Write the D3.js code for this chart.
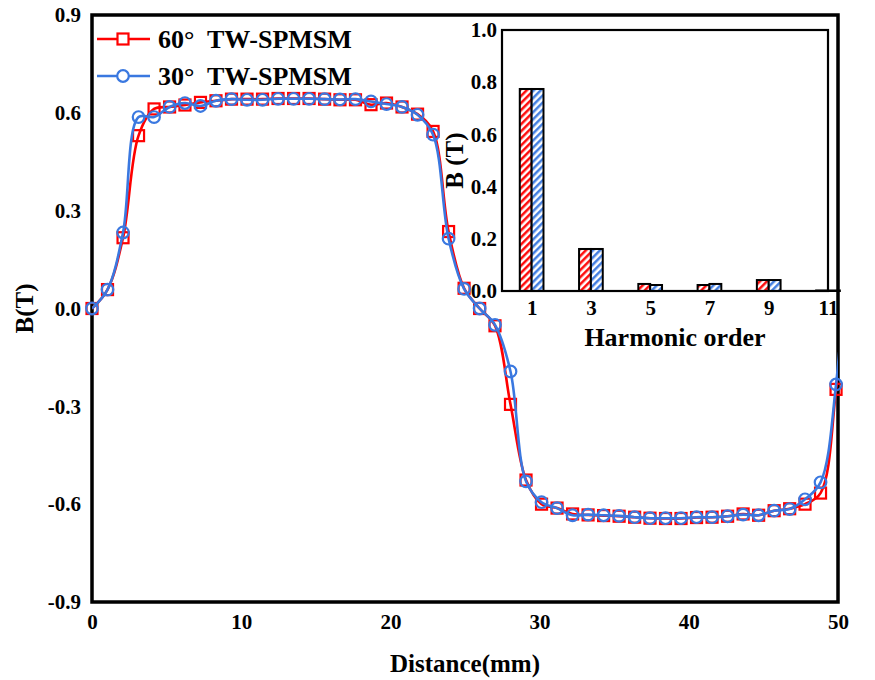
<!DOCTYPE html>
<html>
<head>
<meta charset="utf-8">
<script src="https://cdn.jsdelivr.net/npm/d3@7"></script>
<style>
    body { margin: 0; background: #fff; }
</style>
</head>
<body>
<script>
// distance along the air gap (mm), last point lies past the frame and is clipped
var distance = [0, 1.04, 2.08, 3.12, 4.16, 5.2, 6.23, 7.27, 8.31, 9.35, 10.39, 11.43, 12.47, 13.51, 14.55,
    15.59, 16.62, 17.66, 18.7, 19.74, 20.78, 21.82, 22.86, 23.9, 24.94, 25.98, 27.01, 28.05, 29.09, 30.13,
    31.17, 32.21, 33.25, 34.29, 35.33, 36.37, 37.4, 38.44, 39.48, 40.52, 41.56, 42.6, 43.64, 44.68, 45.72,
    46.76, 47.79, 48.83, 49.87, 50.91];

var b60 = [0, 0.058, 0.217, 0.53, 0.612, 0.618, 0.624, 0.632, 0.637, 0.642, 0.642, 0.642, 0.644, 0.644, 0.644,
    0.642, 0.64, 0.64, 0.625, 0.63, 0.618, 0.596, 0.543, 0.236, 0.062, 0, -0.053, -0.294, -0.526, -0.6,
    -0.612, -0.63, -0.633, -0.635, -0.637, -0.64, -0.643, -0.644, -0.644, -0.641, -0.64, -0.637, -0.63, -0.634, -0.62,
    -0.614, -0.6, -0.566, -0.248, 0.3];

var b30 = [0, 0.058, 0.233, 0.587, 0.587, 0.618, 0.63, 0.621, 0.637, 0.642, 0.64, 0.64, 0.643, 0.643, 0.643,
    0.642, 0.641, 0.642, 0.635, 0.627, 0.618, 0.594, 0.533, 0.214, 0.06, 0, -0.05, -0.193, -0.53, -0.594,
    -0.612, -0.634, -0.632, -0.634, -0.636, -0.64, -0.643, -0.643, -0.643, -0.64, -0.64, -0.637, -0.632, -0.634, -0.62,
    -0.615, -0.585, -0.533, -0.233, 0.45];

var xTicks = [0, 10, 20, 30, 40, 50];
var yTicks = [-0.9, -0.6, -0.3, 0, 0.3, 0.6, 0.9];

// harmonic spectrum (inset)
var orders = [1, 3, 5, 7, 9, 11];
var h60 = [0.774, 0.161, 0.027, 0.023, 0.042, 0.002];
var h30 = [0.774, 0.161, 0.023, 0.027, 0.042, 0.002];
var hTicks = [0, 0.2, 0.4, 0.6, 0.8, 1.0];

var seriesNames = ["60°  TW-SPMSM", "30°  TW-SPMSM"];

var red = "#ff0000";
var blue = "#3a78e0";
var font = "'Liberation Serif', 'Times New Roman', Times, serif";

var width = 875, height = 680;
var svg = d3.select("body").append("svg")
    .attr("width", width)
    .attr("height", height);

var defs = svg.append("defs");

// hatch patterns for the bars
[["hatchRed", red], ["hatchBlue", blue]].forEach(function(p) {
    var pat = defs.append("pattern")
        .attr("id", p[0])
        .attr("patternUnits", "userSpaceOnUse")
        .attr("width", 5)
        .attr("height", 5)
        .attr("patternTransform", "rotate(45)");
    pat.append("rect").attr("width", 5).attr("height", 5).attr("fill", "#fff");
    pat.append("line")
        .attr("x1", 1.3).attr("y1", 0).attr("x2", 1.3).attr("y2", 5)
        .attr("stroke", p[1]).attr("stroke-width", 2.4);
});

function styleText(sel, size) {
    sel.style("font-family", font)
        .style("font-weight", "bold")
        .style("font-size", size + "px")
        .attr("fill", "#000");
}

// ---- main plot ----
var x = d3.scaleLinear().domain([0, 50]).range([92, 838]);
var y = d3.scaleLinear().domain([-0.9, 0.9]).range([602, 15]);

defs.append("clipPath").attr("id", "plotClip")
    .append("rect")
    .attr("x", x(0)).attr("y", y(0.9))
    .attr("width", x(50) - x(0)).attr("height", y(-0.9) - y(0.9));

var xAxis = svg.append("g")
    .attr("transform", "translate(0," + y(-0.9) + ")")
    .call(d3.axisBottom(x).tickValues(xTicks).tickSize(0).tickPadding(12).tickFormat(d3.format("d")));
xAxis.select(".domain").remove();
styleText(xAxis.selectAll("text"), 21);

var yAxis = svg.append("g")
    .attr("transform", "translate(" + x(0) + ",0)")
    .call(d3.axisLeft(y).tickValues(yTicks).tickSize(0).tickPadding(11));
yAxis.select(".domain").remove();
yAxis.selectAll("text").text(function(d) { return d3.format(".1f")(d).replace("−", "-"); });
styleText(yAxis.selectAll("text"), 21);

svg.append("rect")
    .attr("x", x(0)).attr("y", y(0.9))
    .attr("width", x(50) - x(0)).attr("height", y(-0.9) - y(0.9))
    .attr("fill", "none").attr("stroke", "#000").attr("stroke-width", 3.5);

styleText(svg.append("text")
    .attr("transform", "translate(33," + y(0) + ") rotate(-90)")
    .attr("text-anchor", "middle")
    .text("B(T)"), 25);

styleText(svg.append("text")
    .attr("x", (x(0) + x(50)) / 2)
    .attr("y", 672)
    .attr("text-anchor", "middle")
    .text("Distance(mm)"), 25);

var line = d3.line()
    .x(function(d) { return x(d[0]); })
    .y(function(d) { return y(d[1]); })
    .curve(d3.curveCatmullRom.alpha(0.5));

function drawSeries(values, color, shape) {
    var pts = distance.map(function(d, i) { return [d, values[i]]; });
    svg.append("path")
        .datum(pts)
        .attr("clip-path", "url(#plotClip)")
        .attr("d", line)
        .attr("fill", "none")
        .attr("stroke", color)
        .attr("stroke-width", 2.6);

    var shown = pts.filter(function(d) { return d[0] <= 50; });
    if (shape == "square") {
        svg.append("g").selectAll("rect")
            .data(shown)
            .enter().append("rect")
            .attr("x", function(d) { return x(d[0]) - 5.5; })
            .attr("y", function(d) { return y(d[1]) - 5.5; })
            .attr("width", 11).attr("height", 11)
            .attr("fill", "none").attr("stroke", color).attr("stroke-width", 2.2);
    } else {
        svg.append("g").selectAll("circle")
            .data(shown)
            .enter().append("circle")
            .attr("cx", function(d) { return x(d[0]); })
            .attr("cy", function(d) { return y(d[1]); })
            .attr("r", 5.8)
            .attr("fill", "none").attr("stroke", color).attr("stroke-width", 2.2);
    }
}

drawSeries(b60, red, "square");
drawSeries(b30, blue, "circle");

// legend
var legend = svg.append("g");
[[seriesNames[0], red, "square"], [seriesNames[1], blue, "circle"]].forEach(function(s, i) {
    var ly = 39 + i * 37;
    legend.append("line")
        .attr("x1", 97).attr("x2", 150).attr("y1", ly).attr("y2", ly)
        .attr("stroke", s[1]).attr("stroke-width", 2.6);
    if (s[2] == "square") {
        legend.append("rect")
            .attr("x", 123 - 5.5).attr("y", ly - 5.5).attr("width", 11).attr("height", 11)
            .attr("fill", "#fff").attr("stroke", s[1]).attr("stroke-width", 2.2);
    } else {
        legend.append("circle")
            .attr("cx", 123).attr("cy", ly).attr("r", 5.8)
            .attr("fill", "#fff").attr("stroke", s[1]).attr("stroke-width", 2.2);
    }
    styleText(legend.append("text")
        .attr("x", 158).attr("y", ly + 9)
        .style("white-space", "pre")
        .text(s[0]), 26);
});

// ---- inset: harmonic spectrum ----
var xi = d3.scaleLinear().domain([0, 11]).range([502, 828]);
var yi = d3.scaleLinear().domain([0, 1]).range([291, 30]);
var barW = xi(0.4) - xi(0);

var inset = svg.append("g");

inset.append("rect")
    .attr("x", xi(0)).attr("y", yi(1))
    .attr("width", xi(11) - xi(0)).attr("height", yi(0) - yi(1))
    .attr("fill", "#fff");

var ixAxis = inset.append("g")
    .attr("transform", "translate(0," + yi(0) + ")")
    .call(d3.axisBottom(xi).tickValues(orders).tickSize(0).tickPadding(9).tickFormat(d3.format("d")));
ixAxis.select(".domain").remove();
styleText(ixAxis.selectAll("text"), 21);

var iyAxis = inset.append("g")
    .attr("transform", "translate(" + xi(0) + ",0)")
    .call(d3.axisLeft(yi).tickValues(hTicks).tickSize(0).tickPadding(5).tickFormat(d3.format(".1f")));
iyAxis.select(".domain").remove();
styleText(iyAxis.selectAll("text"), 21);

inset.append("g").selectAll("rect")
    .data(orders)
    .enter().append("rect")
    .attr("x", function(d) { return xi(d) - barW; })
    .attr("y", function(d, i) { return yi(h60[i]); })
    .attr("width", barW)
    .attr("height", function(d, i) { return yi(0) - yi(h60[i]); })
    .attr("fill", "url(#hatchRed)")
    .attr("stroke", "#000").attr("stroke-width", 2);

inset.append("g").selectAll("rect")
    .data(orders)
    .enter().append("rect")
    .attr("x", function(d) { return xi(d); })
    .attr("y", function(d, i) { return yi(h30[i]); })
    .attr("width", barW)
    .attr("height", function(d, i) { return yi(0) - yi(h30[i]); })
    .attr("fill", "url(#hatchBlue)")
    .attr("stroke", "#000").attr("stroke-width", 2);

inset.append("rect")
    .attr("x", xi(0)).attr("y", yi(1))
    .attr("width", xi(11) - xi(0)).attr("height", yi(0) - yi(1))
    .attr("fill", "none").attr("stroke", "#000").attr("stroke-width", 2.2);

styleText(inset.append("text")
    .attr("transform", "translate(463," + yi(0.5) + ") rotate(-90)")
    .attr("text-anchor", "middle")
    .text("B (T)"), 25);

styleText(inset.append("text")
    .attr("x", (xi(0) + xi(11)) / 2 + 10)
    .attr("y", 346)
    .attr("text-anchor", "middle")
    .text("Harmonic order"), 26);
</script>
</body>
</html>
